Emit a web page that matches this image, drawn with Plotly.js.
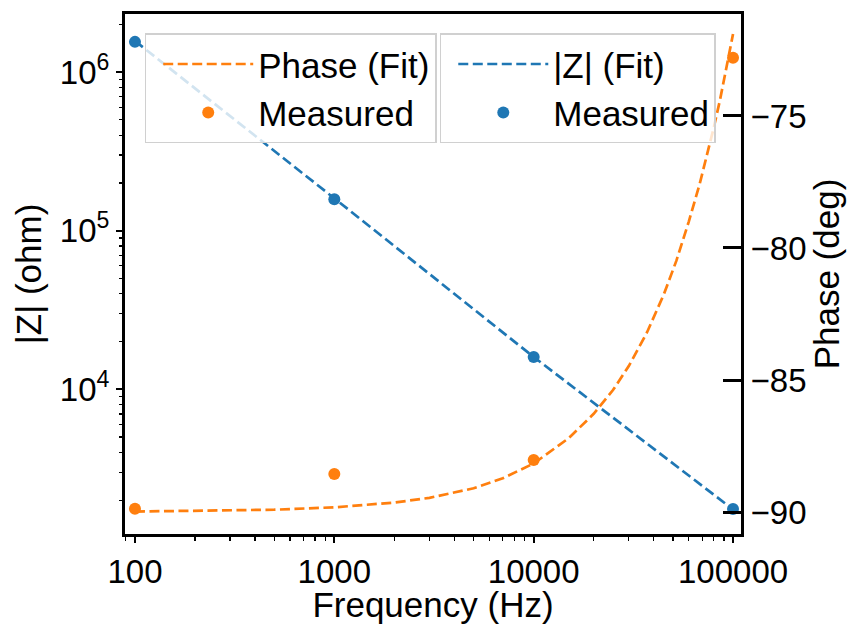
<!DOCTYPE html>
<html>
<head>
<meta charset="utf-8">
<script src="https://cdn.plot.ly/plotly-3.0.1.min.js"></script>
<style>
  html, body { margin: 0; padding: 0; background: #fff; }
  #chart { width: 853px; height: 624px; }
</style>
</head>
<body>
<div id="chart"></div>
<script>
// Measured impedance data
const freqMeasured = [100, 1000, 10000, 100000];
const zMeasured = [1.55e6, 1.58e5, 1.6e4, 1.76e3];
const phaseMeasured = [-89.87, -88.56, -88.03, -72.80];

// Fitted |Z| curve
const freqZFit = [100, 1000, 10000, 100000];
const zFit = [1.57e6, 1.6e5, 1.6e4, 1.75e3];

// Fitted phase curve
const freqPhaseFit = [100, 200, 500, 1000, 2000, 3000, 5000, 7000, 10000, 15000,
                      20000, 25000, 30000, 37000, 45000, 52000, 60000, 68000,
                      75000, 80000, 86000, 90000, 94000, 97000, 100000];
const phaseFit = [-89.98, -89.96, -89.91, -89.82, -89.64, -89.46, -89.10, -88.72,
                  -88.16, -87.20, -86.28, -85.38, -84.47, -83.20, -81.75, -80.48,
                  -79.00, -77.58, -76.34, -75.45, -74.40, -73.68, -72.96, -72.43, -71.90];

// Axis tick labels
const xTickVals = [100, 1000, 10000, 100000];
const xTickText = ['100', '1000', '10000', '100000'];
const yTickVals = [1e4, 1e5, 1e6];
const yTickText = ['10<sup>4</sup>', '10<sup>5</sup>', '10<sup>6</sup>'];
const y2TickVals = [-90, -85, -80, -75];

const BLUE = '#1f77b4';
const ORANGE = '#ff7f0e';
const FONT = 'Liberation Sans, Arial, Helvetica, sans-serif';
const TICK_FS = 33;
const LABEL_FS = 35;

const traces = [
  {
    x: freqZFit, y: zFit, type: 'scatter', mode: 'lines', name: '|Z| (Fit)',
    line: { color: BLUE, width: 2.7, dash: '10px,4.5px' },
    xaxis: 'x', yaxis: 'y', legend: 'legend2'
  },
  {
    x: freqMeasured, y: zMeasured, type: 'scatter', mode: 'markers', name: 'Measured',
    marker: { color: BLUE, size: 12 },
    xaxis: 'x', yaxis: 'y', legend: 'legend2'
  },
  {
    x: freqPhaseFit, y: phaseFit, type: 'scatter', mode: 'lines', name: 'Phase (Fit)',
    line: { color: ORANGE, width: 2.7, dash: '10px,4.5px' },
    xaxis: 'x', yaxis: 'y2', legend: 'legend'
  },
  {
    x: freqMeasured, y: phaseMeasured, type: 'scatter', mode: 'markers', name: 'Measured',
    marker: { color: ORANGE, size: 12 },
    xaxis: 'x', yaxis: 'y2', legend: 'legend'
  }
];

const legendStyle = {
  bgcolor: 'rgba(255,255,255,0.8)',
  bordercolor: '#d0d0d0',
  borderwidth: 1.5,
  font: { family: FONT, size: LABEL_FS, color: '#000' },
  xanchor: 'left', yanchor: 'top',
  itemwidth: 90,
  indentation: 12
};

const layout = {
  width: 853, height: 624,
  margin: { l: 125, r: 112, t: 14, b: 90, pad: 0 },
  paper_bgcolor: '#fff', plot_bgcolor: '#fff',
  font: { family: FONT, size: LABEL_FS, color: '#000' },
  showlegend: true,
  xaxis: {
    type: 'log', range: [1.950, 5.040],
    tickvals: xTickVals, ticktext: xTickText,
    ticks: 'outside', ticklen: 6, tickwidth: 2, tickcolor: '#000',
    showline: true, linewidth: 3, linecolor: '#000', mirror: true,
    showgrid: false, zeroline: false,
    minor: { ticks: 'outside', ticklen: 3.5, tickwidth: 1.2, tickcolor: '#000', dtick: 'D1', showgrid: false },
    tickfont: { size: TICK_FS },
    title: { text: 'Frequency (Hz)', font: { size: LABEL_FS }, standoff: 7 }
  },
  yaxis: {
    type: 'log', range: [3.088, 6.366],
    tickvals: yTickVals, ticktext: yTickText,
    ticks: 'outside', ticklen: 6, tickwidth: 2, tickcolor: '#000',
    showline: true, linewidth: 3, linecolor: '#000',
    showgrid: false, zeroline: false,
    minor: { ticks: 'outside', ticklen: 3.5, tickwidth: 1.2, tickcolor: '#000', dtick: 'D1', showgrid: false },
    tickfont: { size: TICK_FS },
    title: { text: '|Z| (ohm)', font: { size: LABEL_FS }, standoff: 8 }
  },
  yaxis2: {
    overlaying: 'y', side: 'right', range: [-90.83, -71.14],
    tickvals: y2TickVals,
    ticks: 'inside', ticklen: 18, tickwidth: 3, tickcolor: '#000',
    showline: true, linewidth: 3, linecolor: '#000',
    showgrid: false, zeroline: false,
    tickfont: { size: TICK_FS },
    title: { text: 'Phase (deg)', font: { size: LABEL_FS }, standoff: 6 }
  },
  legend: Object.assign({ x: 0.032, y: 0.963 }, legendStyle),
  legend2: Object.assign({ x: 0.511, y: 0.963 }, legendStyle)
};

Plotly.newPlot('chart', traces, layout, { displayModeBar: false, staticPlot: true });
</script>
</body>
</html>
